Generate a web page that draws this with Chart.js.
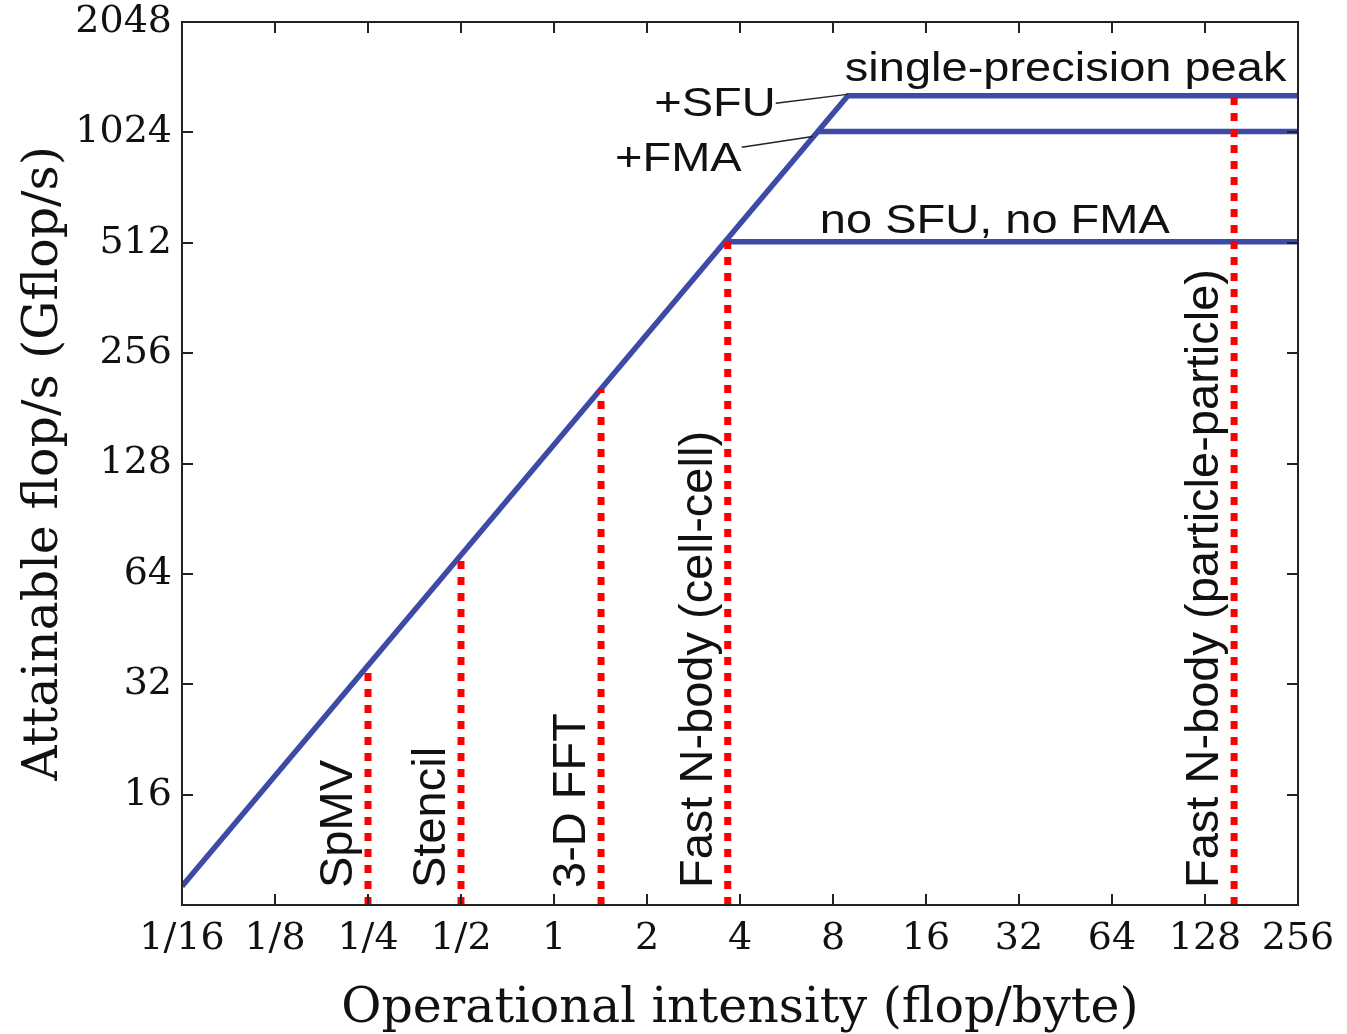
<!DOCTYPE html>
<html>
<head>
<meta charset="utf-8">
<title>Roofline</title>
<script src="https://cdn.jsdelivr.net/npm/chart.js@4.4.0/dist/chart.umd.min.js"></script>
<style>
  html, body { margin: 0; padding: 0; background: #fff; }
  #wrap { width: 1347px; height: 1034px; }
</style>
</head>
<body>
<div id="wrap"><canvas id="roofline"></canvas></div>
<script>
// axis ticks (log base 2)
var xTicks = [1/16, 1/8, 1/4, 1/2, 1, 2, 4, 8, 16, 32, 64, 128, 256];
var xTickLabels = ['1/16', '1/8', '1/4', '1/2', '1', '2', '4', '8', '16', '32', '64', '128', '256'];
var yTicks = [16, 32, 64, 128, 256, 512, 1024, 2048];

// roofline ceilings, Gflop/s vs flop/byte
var peakRoof = [{x: 1/16, y: 9}, {x: 8.94, y: 1288}, {x: 256, y: 1288}];
var fmaRoof = [{x: 7.15, y: 1030}, {x: 256, y: 1030}];
var noFmaRoof = [{x: 3.58, y: 515}, {x: 256, y: 515}];

// kernels
var kernelNames = ['SpMV', 'Stencil', '3-D FFT', 'Fast N-body (cell-cell)', 'Fast N-body (particle-particle)'];
var kernelIntensity = [0.25, 0.5, 1.42, 3.65, 159];
var kernelFlops = [36, 72, 204, 515, 1288];

var ceilingNames = ['single-precision peak', '+SFU', '+FMA', 'no SFU, no FMA'];

var BLUE = '#3d4aa6';
var RED = '#ff0000';

function drawText(ctx, text, x, y, o) {
    ctx.save();
    ctx.translate(x, y);
    if (o.rotate) ctx.rotate(o.rotate);
    ctx.scale(o.sx || 1, o.sy || 1);
    ctx.font = o.font;
    ctx.fillStyle = o.color || '#111';
    ctx.textAlign = o.align || 'left';
    ctx.textBaseline = 'alphabetic';
    ctx.fillText(text, 0, 0);
    ctx.restore();
}

var roofDecor = {
    id: 'roofDecor',
    afterDatasetsDraw: function (chart, args, opts) {
        var ctx = chart.ctx;
        var xs = chart.scales.x, ys = chart.scales.y;
        var area = chart.chartArea;

        // kernel names, rotated next to their lines
        kernelNames.forEach(function (name, i) {
            var px = xs.getPixelForValue(kernelIntensity[i]);
            drawText(ctx, name, px - 16, area.bottom - 17, {
                rotate: -Math.PI / 2, font: '47px "Liberation Sans"'
            });
        });

        // ceiling labels
        opts.ceilings.forEach(function (c, i) {
            drawText(ctx, ceilingNames[i], xs.getPixelForValue(c.x), ys.getPixelForValue(c.y), {
                font: '47px "Liberation Sans"', align: c.align, sy: 0.85
            });
        });

        // leader lines
        ctx.save();
        ctx.strokeStyle = '#222';
        ctx.lineWidth = 1.5;
        opts.leaders.forEach(function (l) {
            ctx.beginPath();
            ctx.moveTo(xs.getPixelForValue(l[0]), ys.getPixelForValue(l[1]));
            ctx.lineTo(xs.getPixelForValue(l[2]), ys.getPixelForValue(l[3]));
            ctx.stroke();
        });
        ctx.restore();
    },
    afterDraw: function (chart) {
        var ctx = chart.ctx;
        var a = chart.chartArea;
        var xs = chart.scales.x, ys = chart.scales.y;
        var tl = 11;
        ctx.save();
        ctx.strokeStyle = '#222';
        ctx.lineWidth = 2;
        ctx.strokeRect(a.left, a.top, a.right - a.left, a.bottom - a.top);
        ctx.beginPath();
        xs.ticks.forEach(function (t) {
            var px = Math.round(xs.getPixelForValue(t.value));
            ctx.moveTo(px, a.bottom); ctx.lineTo(px, a.bottom - tl);
            ctx.moveTo(px, a.top); ctx.lineTo(px, a.top + tl);
        });
        ys.ticks.forEach(function (t) {
            var py = Math.round(ys.getPixelForValue(t.value));
            ctx.moveTo(a.left, py); ctx.lineTo(a.left + tl, py);
            ctx.moveTo(a.right, py); ctx.lineTo(a.right - tl, py);
        });
        ctx.stroke();
        ctx.restore();
    }
};

var datasets = kernelNames.map(function (name, i) {
    return {
        label: name,
        data: [{x: kernelIntensity[i], y: 8}, {x: kernelIntensity[i], y: kernelFlops[i]}],
        borderColor: RED,
        borderWidth: 7,
        borderDash: [8, 8],
        pointRadius: 0,
        showLine: true
    };
});
[peakRoof, fmaRoof, noFmaRoof].forEach(function (d, i) {
    datasets.push({
        label: 'roof' + i,
        data: d,
        borderColor: BLUE,
        borderWidth: 5.5,
        pointRadius: 0,
        showLine: true
    });
});

var tickFont = {family: '"DejaVu Serif"', size: 38};
var titleFont = {family: '"DejaVu Serif"', size: 49, lineHeight: 1};

new Chart(document.getElementById('roofline'), {
    type: 'scatter',
    data: {datasets: datasets},
    options: {
        responsive: true,
        maintainAspectRatio: false,
        animation: false,
        layout: {padding: {left: 0, top: 22, right: 49, bottom: 0}},
        plugins: {
            legend: {display: false},
            tooltip: {enabled: false},
            roofDecor: {
                ceilings: [
                    {x: 8.74, y: 1411, align: 'left'},
                    {x: 5.22, y: 1133, align: 'right'},
                    {x: 4.05, y: 802, align: 'right'},
                    {x: 7.25, y: 546, align: 'left'}
                ],
                leaders: [
                    [5.22, 1229, 8.9, 1300],
                    [4.05, 932, 6.88, 998]
                ]
            }
        },
        scales: {
            x: {
                type: 'logarithmic',
                min: 1/16,
                max: 256,
                afterBuildTicks: function (s) { s.ticks = xTicks.map(function (v) { return {value: v}; }); },
                afterFit: function (s) { s.height = 129; s.paddingLeft = 0; s.paddingRight = 0; },
                grid: {display: false, drawTicks: false},
                border: {display: false},
                ticks: {
                    font: tickFont, color: '#111', padding: 11, maxRotation: 0, autoSkip: false,
                    callback: function (v) { return xTickLabels[xTicks.indexOf(v)]; }
                },
                title: {display: true, text: 'Operational intensity (flop/byte)', font: titleFont, color: '#111', padding: {top: 0, bottom: 0}}
            },
            y: {
                type: 'logarithmic',
                min: 8,
                max: 2048,
                afterBuildTicks: function (s) { s.ticks = yTicks.map(function (v) { return {value: v}; }); },
                afterFit: function (s) { s.width = 182; s.paddingTop = 0; s.paddingBottom = 0; },
                grid: {display: false, drawTicks: false},
                border: {display: false},
                ticks: {
                    font: tickFont, color: '#111', padding: 10, autoSkip: false,
                    callback: function (v) { return String(v); }
                },
                title: {display: true, text: 'Attainable flop/s (Gflop/s)', font: titleFont, color: '#111', padding: {top: 20, bottom: 0}}
            }
        }
    },
    plugins: [roofDecor]
});
</script>
</body>
</html>
